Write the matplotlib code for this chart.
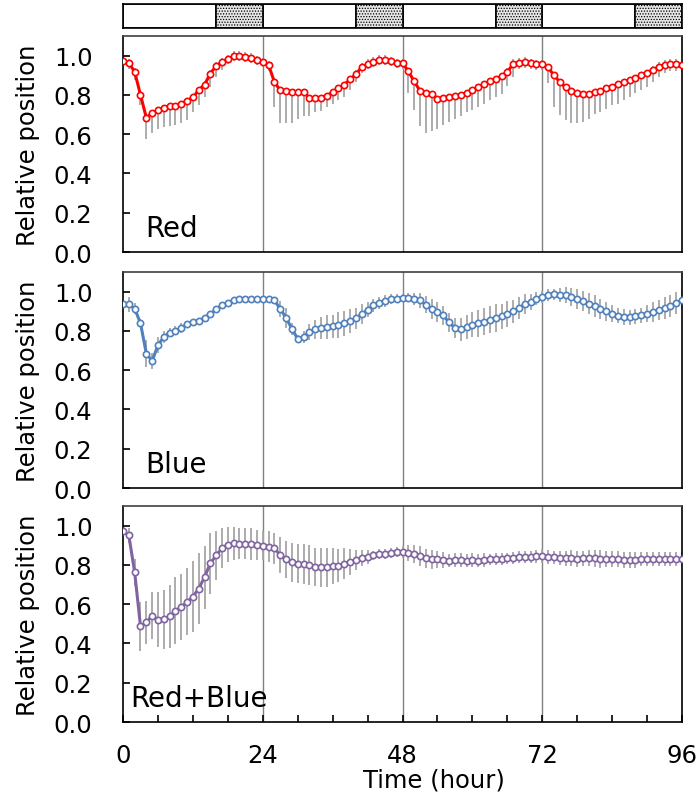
import matplotlib
matplotlib.use("Agg")
import matplotlib.pyplot as plt

# время (часы), одна точка в час
hours = list(range(0, 97))

# светлые / тёмные периоды для полосы сверху
dark_start = [16, 40, 64, 88]
dark_end = [24, 48, 72, 96]
light_start = [0, 24, 48, 72]
light_end = [16, 40, 64, 88]

red = [0.972, 0.962, 0.918, 0.800, 0.684, 0.708, 0.723, 0.735, 0.742, 0.746,
       0.756, 0.771, 0.787, 0.825, 0.852, 0.909, 0.948, 0.969, 0.983, 0.997,
       0.997, 0.995, 0.986, 0.978, 0.969, 0.952, 0.866, 0.823, 0.820, 0.814,
       0.814, 0.814, 0.785, 0.782, 0.785, 0.797, 0.814, 0.835, 0.852, 0.880,
       0.905, 0.942, 0.957, 0.969, 0.976, 0.976, 0.971, 0.962, 0.962, 0.921,
       0.869, 0.821, 0.808, 0.806, 0.780, 0.782, 0.787, 0.794, 0.800, 0.811,
       0.825, 0.840, 0.856, 0.869, 0.881, 0.897, 0.918, 0.957, 0.962, 0.969,
       0.964, 0.959, 0.957, 0.940, 0.900, 0.866, 0.838, 0.818, 0.809, 0.806,
       0.806, 0.814, 0.821, 0.835, 0.842, 0.854, 0.866, 0.878, 0.888, 0.900,
       0.914, 0.928, 0.943, 0.954, 0.957, 0.957, 0.954]
red_lo = [0.02, 0.03, 0.04, 0.05, 0.108, 0.103, 0.096, 0.100, 0.100, 0.100,
          0.100, 0.100, 0.074, 0.077, 0.062, 0.067, 0.055, 0.040, 0.025, 0.025,
          0.025, 0.025, 0.025, 0.025, 0.025, 0.030, 0.127, 0.167, 0.163, 0.158,
          0.136, 0.119, 0.090, 0.070, 0.065, 0.060, 0.060, 0.060, 0.060, 0.055,
          0.040, 0.030, 0.025, 0.025, 0.025, 0.025, 0.025, 0.025, 0.030, 0.113,
          0.148, 0.180, 0.200, 0.190, 0.153, 0.137, 0.125, 0.115, 0.105, 0.098,
          0.100, 0.100, 0.100, 0.096, 0.090, 0.090, 0.075, 0.064, 0.030, 0.030,
          0.030, 0.030, 0.030, 0.080, 0.160, 0.170, 0.168, 0.160, 0.153, 0.144,
          0.127, 0.112, 0.108, 0.105, 0.095, 0.098, 0.093, 0.088, 0.080, 0.075,
          0.072, 0.060, 0.050, 0.043, 0.035, 0.035, 0.035]
red_hi = [0.02, 0.02, 0.02, 0.01, 0.01, 0.01, 0.01, 0.01, 0.01, 0.01,
          0.01, 0.01, 0.01, 0.015, 0.02, 0.02, 0.02, 0.02, 0.02, 0.025,
          0.025, 0.025, 0.025, 0.02, 0.02, 0.02, 0.01, 0.01, 0.01, 0.01,
          0.01, 0.01, 0.01, 0.01, 0.01, 0.01, 0.01, 0.015, 0.015, 0.015,
          0.02, 0.02, 0.025, 0.025, 0.025, 0.025, 0.02, 0.02, 0.02, 0.01,
          0.01, 0.01, 0.01, 0.01, 0.01, 0.01, 0.01, 0.01, 0.01, 0.01,
          0.01, 0.01, 0.01, 0.01, 0.015, 0.015, 0.02, 0.025, 0.025, 0.025,
          0.02, 0.02, 0.02, 0.01, 0.01, 0.01, 0.01, 0.01, 0.01, 0.01,
          0.01, 0.01, 0.01, 0.01, 0.01, 0.01, 0.01, 0.01, 0.015, 0.015,
          0.015, 0.02, 0.025, 0.025, 0.025, 0.025, 0.02]

blue = [0.937, 0.935, 0.914, 0.839, 0.685, 0.647, 0.727, 0.769, 0.792, 0.802,
        0.815, 0.836, 0.844, 0.853, 0.867, 0.886, 0.911, 0.930, 0.944, 0.956,
        0.962, 0.963, 0.963, 0.963, 0.965, 0.963, 0.955, 0.913, 0.867, 0.811,
        0.759, 0.771, 0.795, 0.808, 0.815, 0.820, 0.823, 0.830, 0.839, 0.851,
        0.864, 0.885, 0.909, 0.930, 0.941, 0.953, 0.962, 0.965, 0.970, 0.970,
        0.962, 0.955, 0.934, 0.913, 0.895, 0.879, 0.843, 0.816, 0.808, 0.820,
        0.832, 0.839, 0.848, 0.857, 0.867, 0.874, 0.885, 0.899, 0.916, 0.937,
        0.949, 0.965, 0.974, 0.981, 0.986, 0.984, 0.983, 0.974, 0.962, 0.951,
        0.939, 0.927, 0.913, 0.899, 0.888, 0.878, 0.871, 0.869, 0.874, 0.879,
        0.888, 0.895, 0.906, 0.916, 0.928, 0.941, 0.956]
blue_err = [0.02, 0.04, 0.03, 0.02, 0.07, 0.04, 0.04, 0.03, 0.025, 0.025,
            0.025, 0.015, 0.015, 0.015, 0.015, 0.015, 0.015, 0.01, 0.01, 0.01,
            0.01, 0.01, 0.01, 0.01, 0.01, 0.01, 0.01, 0.04, 0.05, 0.03,
            0.02, 0.03, 0.04, 0.05, 0.055, 0.06, 0.06, 0.065, 0.065, 0.06,
            0.055, 0.05, 0.04, 0.035, 0.03, 0.03, 0.025, 0.025, 0.02, 0.025,
            0.03, 0.04, 0.045, 0.05, 0.05, 0.05, 0.05, 0.05, 0.06, 0.06,
            0.065, 0.07, 0.07, 0.07, 0.07, 0.065, 0.065, 0.06, 0.055, 0.05,
            0.04, 0.035, 0.03, 0.03, 0.03, 0.035, 0.04, 0.045, 0.05, 0.05,
            0.055, 0.055, 0.05, 0.05, 0.045, 0.04, 0.04, 0.04, 0.04, 0.04,
            0.045, 0.05, 0.05, 0.055, 0.055, 0.055, 0.05]

purple = [0.971, 0.950, 0.762, 0.488, 0.507, 0.541, 0.521, 0.524, 0.538, 0.566,
          0.586, 0.612, 0.638, 0.679, 0.738, 0.809, 0.848, 0.886, 0.903, 0.910,
          0.909, 0.909, 0.907, 0.902, 0.898, 0.893, 0.884, 0.850, 0.829, 0.814,
          0.807, 0.805, 0.800, 0.790, 0.788, 0.788, 0.795, 0.797, 0.807, 0.814,
          0.824, 0.834, 0.841, 0.848, 0.855, 0.857, 0.860, 0.866, 0.866, 0.860,
          0.855, 0.845, 0.833, 0.828, 0.828, 0.826, 0.822, 0.824, 0.824, 0.822,
          0.824, 0.822, 0.824, 0.828, 0.829, 0.831, 0.833, 0.836, 0.841, 0.841,
          0.840, 0.843, 0.845, 0.841, 0.838, 0.834, 0.833, 0.834, 0.831, 0.833,
          0.834, 0.833, 0.831, 0.829, 0.829, 0.829, 0.826, 0.826, 0.824, 0.829,
          0.829, 0.829, 0.829, 0.829, 0.829, 0.829, 0.829]
purple_err = [0.02, 0.04, 0.07, 0.125, 0.11, 0.12, 0.14, 0.15, 0.16, 0.17,
              0.17, 0.17, 0.18, 0.18, 0.16, 0.155, 0.125, 0.10, 0.09, 0.085,
              0.08, 0.08, 0.08, 0.078, 0.073, 0.078, 0.078, 0.09, 0.095, 0.10,
              0.10, 0.10, 0.10, 0.095, 0.10, 0.10, 0.09, 0.086, 0.078, 0.065,
              0.05, 0.04, 0.035, 0.025, 0.025, 0.025, 0.025, 0.025, 0.03, 0.04,
              0.045, 0.05, 0.05, 0.05, 0.045, 0.04, 0.035, 0.035, 0.035, 0.035,
              0.035, 0.035, 0.035, 0.03, 0.03, 0.03, 0.03, 0.03, 0.03, 0.03,
              0.03, 0.035, 0.035, 0.035, 0.035, 0.035, 0.04, 0.04, 0.04, 0.04,
              0.04, 0.045, 0.045, 0.04, 0.04, 0.04, 0.04, 0.04, 0.04, 0.035,
              0.035, 0.035, 0.035, 0.035, 0.035, 0.035, 0.035]

plt.rcParams['font.family'] = ['DejaVu Sans']
plt.rcParams['hatch.color'] = '#9a9a9a'
plt.rcParams['hatch.linewidth'] = 0.6

fig = plt.figure(figsize=(6.99, 8.03), dpi=100)
left = 0.176
width = 0.7997

# полоса свет/темнота
bar = fig.add_axes([left, 0.9639, width, 0.0299])
for s, e in zip(light_start, light_end):
    bar.axvspan(s, e, facecolor='white', edgecolor='black', lw=1.2)
for s, e in zip(dark_start, dark_end):
    bar.axvspan(s, e, facecolor='#e6e6e6', edgecolor='black', lw=1.2,
                hatch='......')
bar.set_xlim(0, 96)
bar.set_ylim(0, 1)
bar.set_xticks([])
bar.set_yticks([])
for sp in bar.spines.values():
    sp.set_linewidth(1.2)

panels = [
    (0.6849, red, (red_lo, red_hi), '#FF0000', 'Red', 0.039),
    (0.3910, blue, blue_err, '#4F81BD', 'Blue', 0.039),
    (0.0996, purple, purple_err, '#8064A2', 'Red+Blue', 0.013),
]

for k, (bottom, vals, err, col, name, nx) in enumerate(panels):
    ax = fig.add_axes([left, bottom, width, 0.269])
    # вертикальные линии суток
    for d in [24, 48, 72]:
        ax.axvline(d, color='#808080', lw=1.0, zorder=1)
    ax.errorbar(hours, vals, yerr=err, fmt='none', ecolor='#a6a6a6',
                elinewidth=1.3, capsize=0, zorder=2)
    ax.plot(hours, vals, '-o', color=col, lw=2.2, ms=4.5, mfc='white',
            mec=col, mew=1.2, zorder=3)
    ax.set_xlim(0, 96)
    ax.set_ylim(0, 1.1)
    ax.set_yticks([0.0, 0.2, 0.4, 0.6, 0.8, 1.0])
    ax.set_yticklabels(['0.0', '0.2', '0.4', '0.6', '0.8', '1.0'])
    ax.tick_params(axis='y', direction='in', length=5, width=1.2,
                   labelsize=17.5, pad=22)
    ax.set_ylabel('Relative position', fontsize=17.5)
    ax.yaxis.set_label_coords(-0.148, 0.5)
    ax.text(nx, 0.072, name, transform=ax.transAxes, fontsize=20,
            ha='left', va='baseline')
    for sp in ax.spines.values():
        sp.set_linewidth(1.2)
    ax.spines['top'].set_color('#404040')
    if k < 2:
        ax.set_xticks([])
    else:
        ax.set_xticks([0, 24, 48, 72, 96])
        ax.set_xticks(list(range(0, 97, 6)), minor=True)
        ax.tick_params(axis='x', which='both', direction='in', length=5,
                       width=1.2, labelsize=17.5, pad=15)
        ax.set_xlabel('Time (hour)', fontsize=17.5)
        ax.xaxis.set_label_coords(0.557, -0.212)

fig.savefig('out.png', dpi=100)
